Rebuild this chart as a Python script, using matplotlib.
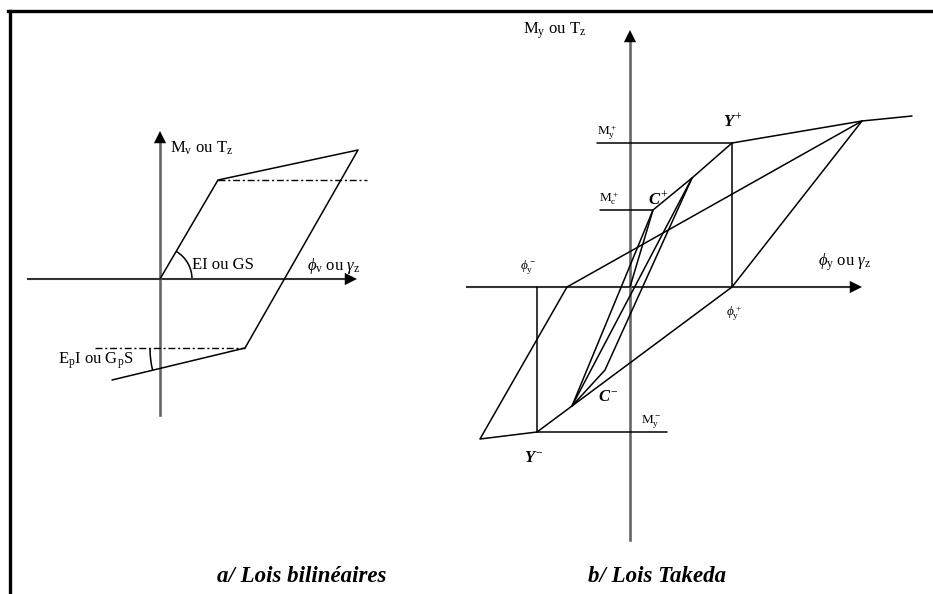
import matplotlib
matplotlib.use('Agg')
import numpy as np
import matplotlib.pyplot as plt
from matplotlib.patches import Arc
from matplotlib.lines import Line2D

W, H = 933, 594
plt.rcParams['font.family'] = ['Liberation Serif', 'DejaVu Serif']
plt.rcParams['mathtext.fontset'] = 'custom'
plt.rcParams['mathtext.rm'] = 'Liberation Serif'
plt.rcParams['mathtext.it'] = 'Liberation Serif:italic'

# %% bilinear law (local px, origin at axis crossing, y up)
a_origin = (160, 279)
a_yield_pos = (58, 99)
a_peak = (198, 129)
a_yield_neg = (85, -69)
a_tail = (-48, -101)
a_dash_pos_end = 207
a_dash_neg_start = -65
a_xaxis = (-132, 197)
a_yaxis = (-136, 148)

# %% Takeda law
b_origin = (630, 287)
b_Yp = (102, 144)
b_peak = (232, 166)
b_tail = (282, 171)
b_My_pos_start = -33
b_R = (102, 0)
b_L = (-63, 0)
b_far = (-150, -152)
b_Yn = (-93, -145)
b_My_neg_end = 37
b_Cp = (23, 77)
b_Mc_pos_start = -30
b_inner = (62, 109)
b_Cn = (-58, -119)
b_kink = (-25, -83)
b_xaxis = (-210, 232)
b_yaxis = (-253, 257)

lw = 1.1
fig = plt.figure(figsize=(W / 100, H / 100), dpi=100)

def panel(x0, x1, origin):
    ox, oy = origin
    ax = fig.add_axes([x0 / W, 0, (x1 - x0) / W, 1])
    ax.set_xlim(x0 - ox, x1 - ox)
    ax.set_ylim(oy - H, oy)
    ax.axis('off')
    return ax

def seg(ax, *pts, **kw):
    pts = np.array(pts, dtype=float)
    ax.plot(pts[:, 0], pts[:, 1], color=kw.pop('color', 'k'), lw=kw.pop('lw', lw),
            solid_capstyle='round', **kw)

def axes_arrows(ax, xr, yr):
    ax.plot([xr[0], xr[1] - 12], [0, 0], color='#333333', lw=1.5)
    ax.plot([0, 0], [yr[0], yr[1] - 12], color='#666666', lw=1.9)
    for tip, tail in [((xr[1], 0), (xr[1] - 14, 0)), ((0, yr[1]), (0, yr[1] - 14))]:
        ax.annotate('', xy=tip, xytext=tail,
                    arrowprops=dict(arrowstyle='-|>', color='k', lw=0, mutation_scale=22,
                                    shrinkA=0, shrinkB=0))

dashdot = (0, (5, 2, 1.5, 2))

# ---- panel a
axa = panel(0, 466, a_origin)
axes_arrows(axa, a_xaxis, a_yaxis)
seg(axa, (0, 0), a_yield_pos, a_peak, a_yield_neg, a_tail)
seg(axa, a_yield_pos, (a_dash_pos_end, a_yield_pos[1]), ls=dashdot, lw=1.0)
seg(axa, (a_dash_neg_start, a_yield_neg[1]), a_yield_neg, ls=dashdot, lw=1.0)
ang = np.degrees(np.arctan2(a_yield_pos[1], a_yield_pos[0]))
axa.add_patch(Arc((0, 0), 64, 64, theta1=0, theta2=ang, color='k', lw=lw))
ang2 = np.degrees(np.arctan2(a_tail[1] - a_yield_neg[1], a_tail[0] - a_yield_neg[0])) % 360
axa.add_patch(Arc(a_yield_neg, 190, 190, theta1=180, theta2=ang2, color='k', lw=lw))

fs = 12
axa.text(10, 131, r'M$_\mathrm{v}$ ou T$_\mathrm{z}$', fontsize=fs, va='center')
axa.text(32, 14, 'EI ou GS', fontsize=fs, va='center')
axa.text(147, 13, r'$\phi_\mathrm{v}$ ou $\gamma_\mathrm{z}$', fontsize=fs, va='center')
axa.text(-102, -82, r'E$_\mathrm{p}$I ou G$_\mathrm{p}$S', fontsize=fs, va='center')
axa.text(142, -298, 'a/ Lois bilinéaires', fontsize=16.5, fontweight='bold',
         fontstyle='italic', ha='center', va='center')

# ---- panel b
axb = panel(466, W, b_origin)
axes_arrows(axb, b_xaxis, b_yaxis)
seg(axb, (b_My_pos_start, b_Yp[1]), b_Yp, b_peak, b_tail)
seg(axb, b_peak, b_L, b_far, b_Yn, (b_My_neg_end, b_Yn[1]))
seg(axb, b_peak, b_R, b_Yp)
seg(axb, (b_Yn[0], 0), b_Yn)
seg(axb, b_Yn, b_Cn, b_R)
seg(axb, b_Yp, b_inner)
seg(axb, (b_Mc_pos_start, b_Cp[1]), b_Cp, b_inner)
seg(axb, b_Cn, b_Cp)
seg(axb, b_Cn, b_inner)
seg(axb, b_Cn, b_kink, b_inner)
seg(axb, (0, 0), b_Cp)

axb.text(-107, 256, r'M$_\mathrm{y}$ ou T$_\mathrm{z}$', fontsize=fs, va='center')
axb.text(188, 25, r'$\phi_\mathrm{y}$ ou $\gamma_\mathrm{z}$', fontsize=fs, va='center')
sm = 9.5
axb.text(-110, 20, r'$\phi_\mathrm{y}^-$', fontsize=sm, va='center')
axb.text(96, -27, r'$\phi_\mathrm{y}^+$', fontsize=sm, va='center')
axb.text(-33, 154, r'M$_\mathrm{y}^+$', fontsize=sm, va='center')
axb.text(-31, 88, r'M$_\mathrm{c}^+$', fontsize=sm, va='center')
axb.text(11, -135, r'M$_\mathrm{y}^-$', fontsize=sm, va='center')
bold = dict(fontsize=12, fontweight='bold', fontstyle='italic', va='center', ha='center')
axb.text(103, 166, r'Y$^+$', **bold)
axb.text(28, 88, r'C$^+$', **bold)
axb.text(-22, -110, r'C$^-$', **bold)
axb.text(-96, -171, r'Y$^-$', **bold)
axb.text(27, -290, 'b/ Lois Takeda', fontsize=16.5, fontweight='bold',
         fontstyle='italic', ha='center', va='center')

# frame: top and left edges only
fig.add_artist(Line2D([8 / W, 1], [1 - 11 / H, 1 - 11 / H], color='k', lw=2.4))
fig.add_artist(Line2D([10 / W, 10 / W], [0, 1 - 11 / H], color='k', lw=2.4))

fig.savefig('out.png', dpi=100)
